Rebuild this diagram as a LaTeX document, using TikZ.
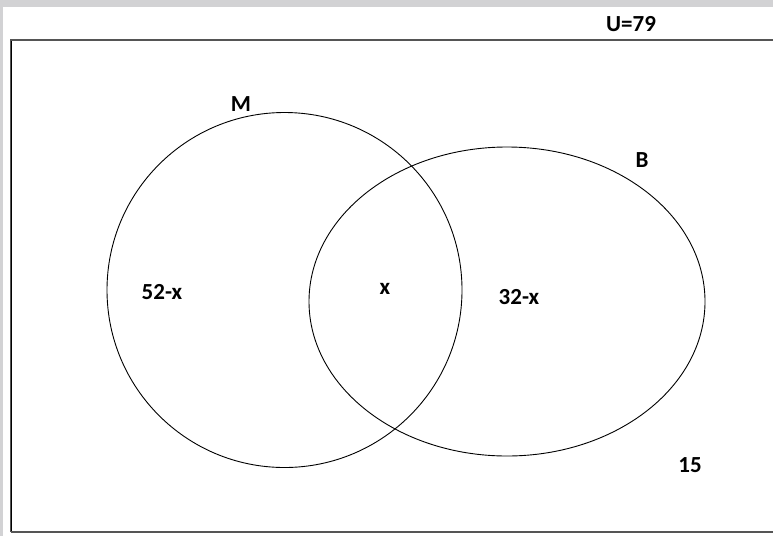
\documentclass[tikz,border=0pt]{standalone}
\usepackage{fontspec}
\setmainfont{Carlito}
\definecolor{bandgray}{RGB}{210,210,212}
\definecolor{framegray}{RGB}{85,85,85}
\begin{document}
\begin{tikzpicture}[x=1pt,y=-1pt,
  lbl/.style={font=\fontsize{23}{26}\selectfont\bfseries, inner sep=0pt, anchor=center},
  setline/.style={draw=black, line width=0.9pt}]
\useasboundingbox (0,0) rectangle (773,536);
\fill[white] (0,0) rectangle (773,536);
\fill[bandgray] (0,0) rectangle (773,7);
\fill[bandgray] (0,0) rectangle (3,536);
\draw[framegray, line width=1.6pt] (10.5,532) -- (10.5,40) -- (775,40);
\draw[framegray, line width=1.8pt] (10.5,532) -- (775,532);
\draw[black, line width=0.8pt] (11.5,531) -- (11.5,41);
\node[setline, circle, minimum size=355pt, inner sep=0pt] (M) at (284.5,290) {};
\draw[setline] (507,301.5) ellipse [x radius=198, y radius=154.5];
\node[lbl] (U) at (631,24) {U=79};
\node[lbl] (Mlab) at (241,104) {M};
\node[lbl] (Blab) at (642,160) {B};
\node[lbl] (a) at (162,292) {52-x};
\node[lbl] (b) at (385,289) {x};
\node[lbl] (c) at (519,297) {32-x};
\node[lbl] (d) at (690,465) {15};
\end{tikzpicture}
\end{document}
